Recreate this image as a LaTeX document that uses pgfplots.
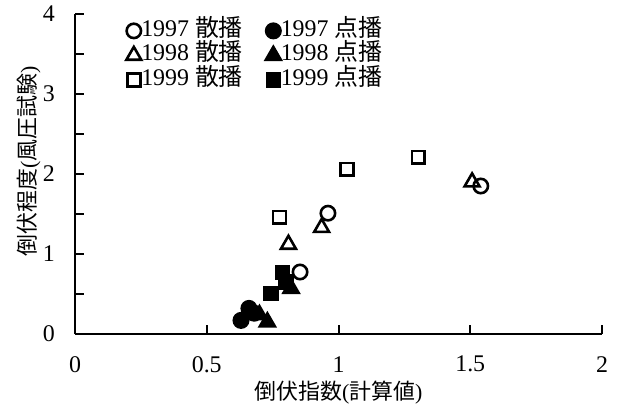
\documentclass[border=0pt]{standalone}
\usepackage{fontspec}
\setmainfont{Liberation Serif}
\newfontfamily\jp{Noto Sans CJK JP}
\usepackage{pgfplots}
\pgfplotsset{compat=1.18}
\begin{document}
\begin{tikzpicture}
\begin{axis}[
    name=ax,
    scale only axis,
    width=263.5bp, height=160bp,
    xmin=0, xmax=2, ymin=0, ymax=4,
    axis lines=left,
    axis line style={line width=1bp, -},
    xtick={0,0.5,1,1.5,2},
    xticklabels={0,0.5,1,1.5,2},
    ytick={0,1,2,3,4},
    yticklabels={0,1,2,3,4},
    xtick style={draw=none},
    ytick style={draw=none},
    /pgf/number format/assume math mode=true,
    ticklabel style={font=\fontsize{12}{14}\selectfont},
    xticklabel style={anchor=center, yshift=-13bp},
    yticklabel style={anchor=center, xshift=-11bp},
    xlabel={{\jp 倒伏指数}({\jp 計算値})},
    ylabel={{\jp 倒伏程度}({\jp 風圧試験})},
    label style={font=\fontsize{11}{13}\selectfont},
    xlabel style={at={(axis description cs:0.5,0)}, anchor=center, yshift=-29.5bp},
    ylabel style={at={(axis description cs:0,0.54)}, anchor=center, yshift=23bp},
    legend columns=2,
    legend cell align=left,
    legend style={draw=none, fill=none, font=\fontsize{12}{14}\selectfont,
        at={([xshift=22.5bp,yshift=-1bp]rel axis cs:0,1)}, anchor=north west,
        row sep=1.8bp, nodes={inner sep=0bp, text height=8bp, text depth=2.5bp},
        /tikz/column 2/.style={column sep=11.5bp}},
    legend image code/.code={\draw[#1] plot coordinates {(0bp,0bp)};},
]
\addplot[only marks, line width=1.3bp, mark=o, mark size=3.6bp] coordinates {(0.854,0.775) (0.96,1.51) (1.54,1.85)};
\addlegendentry{1997 {\jp 散播}}
\addplot[only marks, line width=1.3bp, mark=*, mark size=3.6bp] coordinates {(0.63,0.17) (0.66,0.32) (0.68,0.26)};
\addlegendentry{1997 {\jp 点播}}
\addplot[only marks, line width=1.3bp, mark=triangle, mark size=4.3bp] coordinates {(0.81,1.12) (0.936,1.33) (1.507,1.9)};
\addlegendentry{1998 {\jp 散播}}
\addplot[only marks, line width=1.3bp, mark=triangle*, mark size=4.3bp] coordinates {(0.73,0.15) (0.70,0.24) (0.82,0.57)};
\addlegendentry{1998 {\jp 点播}}
\addplot[only marks, line width=1.3bp, mark=square, mark size=3.2bp] coordinates {(0.776,1.46) (1.032,2.06) (1.303,2.21)};
\addlegendentry{1999 {\jp 散播}}
\addplot[only marks, line width=1.3bp, mark=square*, mark size=3.2bp] coordinates {(0.744,0.51) (0.787,0.77) (0.80,0.65)};
\addlegendentry{1999 {\jp 点播}}
\end{axis}
% inward tick marks, drawn along the axis lines
\foreach \i in {1,...,4}
  \draw[line width=1bp] ([xshift=\i*65.875bp]ax.south west) -- ++(0,4.5bp);
\foreach \j in {1,...,8}
  \draw[line width=1bp] ([yshift=\j*20bp]ax.south west) -- ++(4.5bp,0);
\pgfresetboundingbox
\path ([xshift=-37.5bp,yshift=-39bp]ax.south west) rectangle ++(309bp,206bp);
\end{tikzpicture}
\end{document}
